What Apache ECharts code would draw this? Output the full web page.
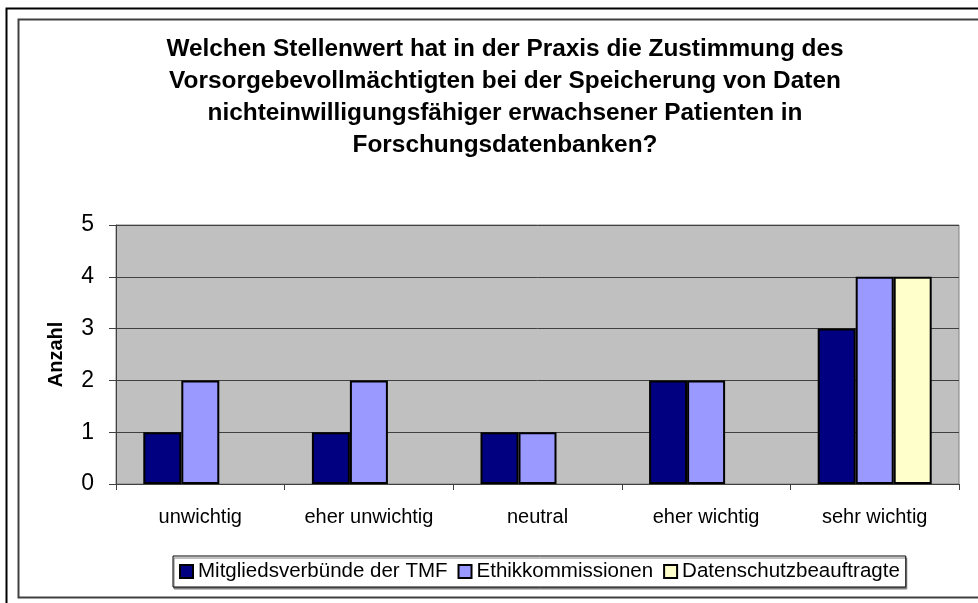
<!DOCTYPE html>
<html>
<head>
<meta charset="utf-8">
<script src="https://cdn.jsdelivr.net/npm/echarts@6/dist/echarts.min.js"></script>
<style>
  html, body { margin: 0; padding: 0; background: #fff; }
  #main { width: 978px; height: 603px; }
</style>
</head>
<body>
<div id="main"></div>
<script>
var categories = ['unwichtig', 'eher unwichtig', 'neutral', 'eher wichtig', 'sehr wichtig'];
var seriesNames = ['Mitgliedsverbünde der TMF', 'Ethikkommissionen', 'Datenschutzbeauftragte'];
var tmfValues = [1, 1, 1, 2, 3];
var ethikValues = [2, 2, 1, 2, 4];
var datenschutzValues = [0, 0, 0, 0, 4];
var barColors = ['#000080', '#9999FF', '#FFFFCC'];

var titleText = 'Welchen Stellenwert hat in der Praxis die Zustimmung des\n' +
  'Vorsorgebevollmächtigten bei der Speicherung von Daten\n' +
  'nichteinwilligungsfähiger erwachsener Patienten in\n' +
  'Forschungsdatenbanken?';

var font = 'Liberation Sans, Arial, sans-serif';

function makeBar(name, data, color) {
  return {
    name: name,
    type: 'bar',
    // zero bars get no outline, like in the original
    data: data.map(function (v) {
      return v === 0 ? { value: v, itemStyle: { borderWidth: 0 } } : v;
    }),
    barWidth: 38,
    barGap: '0%',
    itemStyle: {
      color: color,
      borderColor: '#000',
      borderWidth: 2
    }
  };
}

var chart = echarts.init(document.getElementById('main'));
chart.setOption({
  animation: false,
  backgroundColor: '#fff',
  textStyle: { fontFamily: font },
  title: {
    text: titleText,
    left: 500,
    top: 28,
    textAlign: 'center',
    textStyle: {
      fontFamily: font,
      fontSize: 24.4,
      fontWeight: 'bold',
      lineHeight: 32,
      color: '#000',
      align: 'center'
    }
  },
  graphic: [
    {
      type: 'rect',
      shape: { x: 6.5, y: 8.5, width: 990, height: 610 },
      style: { fill: null, stroke: '#000', lineWidth: 2 },
      silent: true
    },
    {
      type: 'rect',
      shape: { x: 18.5, y: 19.5, width: 980, height: 578 },
      style: { fill: null, stroke: '#404040', lineWidth: 2 },
      silent: true
    }
  ],
  legend: {
    data: seriesNames,
    left: 173,
    top: 556,
    itemWidth: 13,
    itemHeight: 13,
    itemGap: 10,
    padding: [5, 6, 5, 6],
    backgroundColor: '#fff',
    borderColor: '#000',
    borderWidth: 1,
    shadowColor: '#808080',
    shadowOffsetX: 1,
    shadowOffsetY: 2,
    icon: 'rect',
    textStyle: { fontSize: 20.5, color: '#000', fontFamily: font }
  },
  grid: {
    left: 116,
    right: 19,
    top: 225,
    bottom: 119,
    show: true,
    backgroundColor: '#C0C0C0',
    borderColor: '#808080',
    borderWidth: 1
  },
  xAxis: {
    type: 'category',
    data: categories,
    axisLine: { lineStyle: { color: '#404040', width: 1 } },
    axisTick: { show: true, alignWithLabel: false, length: 6, lineStyle: { color: '#404040' } },
    axisLabel: { fontSize: 20, color: '#000', margin: 23, fontFamily: font }
  },
  yAxis: {
    type: 'value',
    min: 0,
    max: 5,
    interval: 1,
    name: 'Anzahl',
    nameLocation: 'middle',
    nameGap: 50,
    nameRotate: 90,
    nameTextStyle: { fontSize: 20, fontWeight: 'bold', color: '#000', fontFamily: font },
    axisLine: { show: true, lineStyle: { color: '#404040', width: 1 } },
    axisTick: { show: true, length: 7, lineStyle: { color: '#404040' } },
    axisLabel: { fontSize: 23, color: '#000', margin: 22, fontFamily: font },
    splitLine: { lineStyle: { color: '#404040', width: 1 } }
  },
  series: [
    makeBar(seriesNames[0], tmfValues, barColors[0]),
    makeBar(seriesNames[1], ethikValues, barColors[1]),
    makeBar(seriesNames[2], datenschutzValues, barColors[2])
  ]
});
</script>
</body>
</html>
